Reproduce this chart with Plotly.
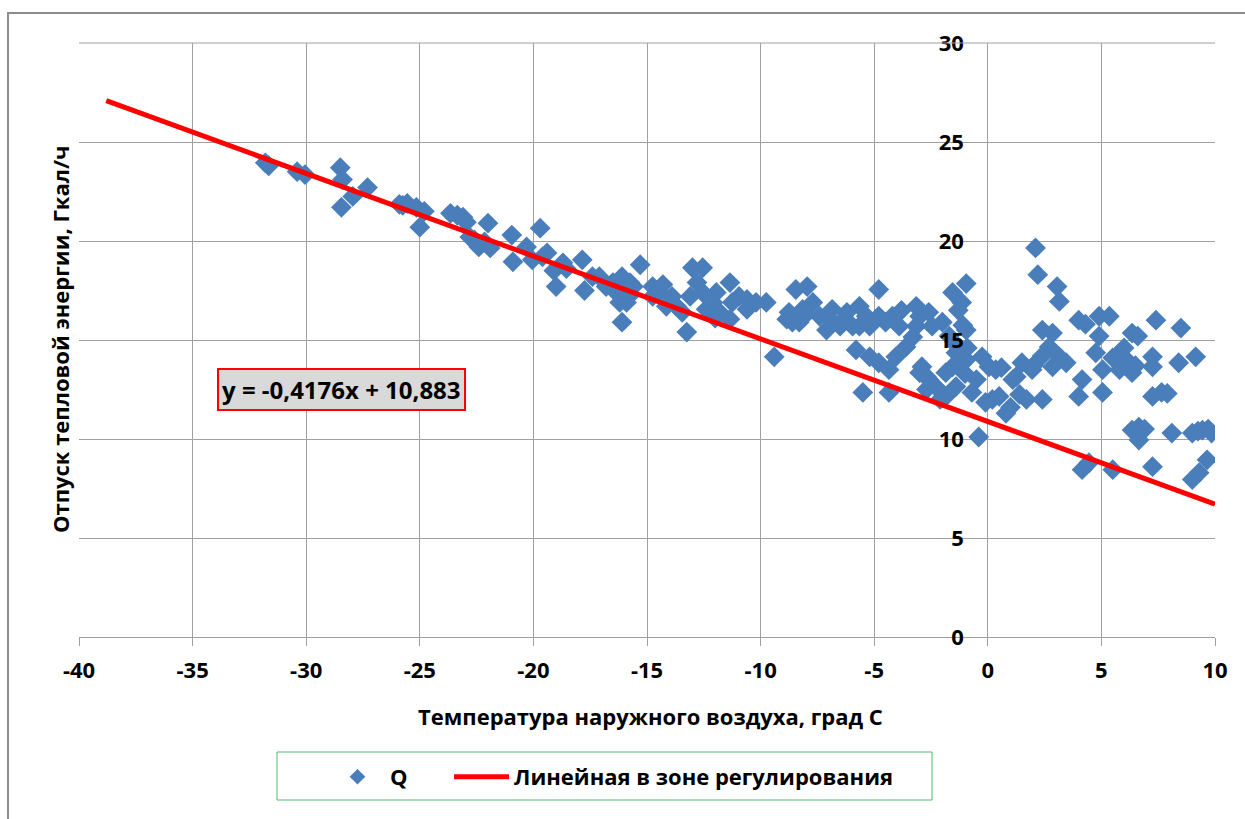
import plotly.graph_objects as go

# Outdoor air temperature, °C
temp_c = [
    -31.8, -31.65, -30.4, -30.05, -28.5, -28.4, -27.3, -27.95, -28.45,
    -25.9, -25.75, -25.55, -25.15, -24.8, -25.0,
    -23.65, -23.35, -23.1, -22.95, -22.0, -22.8, -22.4, -21.9, -22.6, -22.15,
    -20.95, -20.9, -20.3, -20.05, -19.7, -19.4, -19.1, -19.0, -18.7, -18.55, -19.6,
    -17.85, -17.75, -17.4, -16.8, -16.35, -16.1, -15.9, -15.3, -15.75, -17.1, -16.5,
    -16.1, -16.2, -15.6, -15.8,
    -14.75, -14.75, -14.3, -13.9, -13.7, -13.25, -13.0, -12.55, -12.8, -13.1, -12.55,
    -12.1, -11.35, -11.8, -11.25, -10.95, -10.6, -11.35, -10.2, -9.75, -14.15, -12.4,
    -13.45, -10.6, -14.45, -11.95, -12.0,
    -9.4, -8.45, -7.95, -8.75, -8.85, -8.15, -8.3, -7.7, -7.4, -6.85, -6.85, -6.2,
    -5.65, -5.95, -5.35, -5.2, -8.6, -7.1, -6.5, -5.65, -8.0, -7.0, -6.4, -5.8, -5.5, -5.2,
    -4.8, -4.8, -4.8, -4.35, -4.35, -4.2, -3.9, -4.05, -3.6, -3.3, -3.15, -3.15, -3.0,
    -2.6, -2.45, -2.9, -2.7, -4.5, -3.8,
    -3.0, -2.6, -2.3, -2.7, -1.85, -1.85, -1.4, -1.25, -0.95, -0.7, -1.4, -1.55, -0.5,
    -0.25, -0.4, -2.1, -1.0,
    -1.55, -0.95, -1.15, -0.95, -1.1, -1.3, -2.0, -1.7, -0.9, -1.35,
    0.35, 0.2, 0.5, 0.8, 1.1, 1.5, 1.7, 1.95, 2.4, 1.25, 1.4, 0.05, -0.1, 1.0, 0.6,
    2.1, 2.2, 3.05, 3.15, 2.4, 2.85, 2.7, 3.15, 3.45, 2.85, 2.4, 2.0,
    4.0, 4.15, 4.0, 4.9, 4.9, 4.75, 4.15, 4.45, 4.3,
    5.35, 5.05, 5.05, 5.8, 6.1, 6.35, 6.35, 5.8, 6.35, 6.65, 6.65, 5.5, 5.5, 6.0, 6.6,
    6.9, 6.5,
    7.4, 7.25, 7.25, 7.25, 7.65, 7.25, 8.1, 8.4, 8.5, 9.15, 9.0, 9.45, 9.85, 9.65, 9.0,
    9.3, 9.7, 9.25, 7.9,
]

# Heat supply, Gcal/h
heat_gcal = [
    23.95, 23.8, 23.5, 23.35, 23.7, 23.1, 22.7, 22.25, 21.7,
    21.85, 21.8, 21.9, 21.7, 21.5, 20.7,
    21.4, 21.3, 21.2, 20.95, 20.9, 20.2, 19.7, 19.65, 20.05, 19.95,
    20.3, 18.95, 19.7, 19.05, 20.65, 19.4, 18.5, 17.7, 18.9, 18.6, 19.2,
    19.05, 17.5, 18.2, 17.7, 17.4, 15.9, 16.9, 18.8, 17.9, 18.2, 17.9,
    18.2, 16.9, 17.7, 17.2,
    17.2, 17.7, 17.8, 17.2, 16.7, 15.4, 18.65, 18.65, 17.9, 17.2, 17.4,
    16.9, 17.9, 16.4, 16.9, 17.2, 17.05, 16.05, 16.9, 16.9, 16.7, 16.55,
    16.4, 16.55, 17.4, 17.4, 16.1,
    14.15, 17.55, 17.7, 16.4, 16.05, 16.55, 15.9, 16.9, 16.2, 16.55, 15.9, 16.4,
    16.7, 15.7, 16.2, 15.7, 15.9, 15.5, 15.7, 15.7, 16.3, 16.1, 16.0, 14.5, 12.35, 14.15,
    17.55, 16.2, 13.85, 13.5, 12.35, 16.2, 15.7, 14.15, 14.65, 15.15, 15.7, 16.7, 16.2,
    16.4, 15.7, 13.65, 13.15, 15.9, 16.5,
    13.35, 13.0, 12.65, 12.5, 13.35, 12.15, 12.65, 13.85, 14.0, 12.35, 14.35, 13.65, 13.0,
    14.15, 10.1, 12.0, 13.3,
    17.4, 17.85, 16.9, 15.5, 15.75, 16.5, 15.9, 15.2, 14.6, 14.7,
    13.5, 12.0, 12.15, 11.3, 13.0, 13.85, 12.0, 13.5, 12.0, 13.15, 12.25, 13.65, 11.85, 11.6, 13.6,
    19.65, 18.3, 17.7, 16.95, 15.5, 15.35, 14.65, 14.15, 13.85, 13.65, 14.2, 13.7,
    16.0, 13.0, 12.15, 16.2, 15.2, 14.35, 8.45, 8.8, 15.8,
    16.2, 13.5, 12.35, 14.35, 14.0, 15.35, 13.35, 13.5, 10.45, 10.6, 9.95, 8.45, 14.1, 14.6, 15.2,
    10.5, 13.7,
    16.0, 14.15, 13.65, 12.15, 12.35, 8.6, 10.3, 13.85, 15.6, 14.15, 10.3, 10.45, 10.3, 8.95, 7.95,
    8.3, 10.5, 10.4, 12.3,
]

# Linear trend in the control zone: y = slope * x + intercept
TREND_SLOPE = -0.4176
TREND_INTERCEPT = 10.883
trend_x = [-38.8, 10.0]
trend_y = [TREND_SLOPE * t + TREND_INTERCEPT for t in trend_x]

x_ticks = [-40, -35, -30, -25, -20, -15, -10, -5, 0, 5, 10]
y_ticks = [0, 5, 10, 15, 20, 25, 30]

FONT = "Open Sans"
GRID = "#a0a0a0"
TXT = 22

fig = go.Figure()
fig.add_trace(go.Scatter(
    x=temp_c, y=heat_gcal, mode="markers", name="Q", legend="legend",
    marker=dict(symbol="diamond", size=16, color="#4a7ebb", line=dict(width=0)),
))
fig.add_trace(go.Scatter(
    x=trend_x, y=trend_y, mode="lines", name="Линейная в зоне регулирования",
    legend="legend2",
    line=dict(color="#ff0000", width=5),
))

# plot-area geometry in pixels (figure 1245 x 819)
L, R, T, B = 79, 1215, 43, 637
W, H = R - L, B - T
def px(xp):
    return (xp - L) / W
def py(yp):
    return (B - yp) / H

y_axis_pos = (0 - (-40)) / 50.0

legend_common = dict(
    orientation="h", yanchor="middle", xanchor="left",
    font=dict(family=FONT, size=TXT, weight="bold", color="#000000"),
    bgcolor="rgba(0,0,0,0)", borderwidth=0, itemsizing="constant", itemwidth=55,
)

fig.update_layout(
    width=1245, height=819,
    margin=dict(l=L, r=1245 - R, t=T, b=819 - B, pad=0),
    paper_bgcolor="white", plot_bgcolor="white",
    font=dict(family=FONT, color="#000000"),
    showlegend=True,
    legend=dict(x=px(325), y=py(777), **legend_common),
    legend2=dict(x=px(449), y=py(777), **legend_common),
    xaxis=dict(
        range=[-40, 10], tickvals=x_ticks, ticktext=[str(v) for v in x_ticks],
        showgrid=True, gridcolor=GRID, gridwidth=1, zeroline=False,
        showline=True, linecolor=GRID, linewidth=1,
        ticks="outside", ticklen=8, tickcolor=GRID, tickwidth=1,
        tickfont=dict(family=FONT, size=TXT, weight="bold", color="#000000"),
        ticklabelstandoff=6,
    ),
    yaxis=dict(
        range=[0, 30], tickvals=y_ticks, ticktext=[str(v) for v in y_ticks],
        anchor="free", position=y_axis_pos, side="left",
        showgrid=True, gridcolor=GRID, gridwidth=1, zeroline=False,
        showline=False, ticks="",
        tickfont=dict(family=FONT, size=TXT, weight="bold", color="#000000"),
        ticklabelstandoff=24,
    ),
    shapes=[
        # outer chart frame
        dict(type="rect", xref="paper", yref="paper",
             x0=px(8), x1=px(1260), y0=py(840), y1=py(13),
             line=dict(color="#8c8c8c", width=2), fillcolor="rgba(0,0,0,0)", layer="below"),
        # top plot border
        dict(type="line", xref="paper", yref="paper", x0=0, x1=1, y0=1, y1=1,
             line=dict(color=GRID, width=1)),
        # legend frame
        dict(type="rect", xref="paper", yref="paper",
             x0=px(277), x1=px(932), y0=py(800), y1=py(752),
             line=dict(color="#55b96e", width=1), fillcolor="rgba(0,0,0,0)"),
    ],
    annotations=[
        dict(text="Температура наружного воздуха, град С", xref="paper", yref="paper",
             x=px(650), y=py(716), xanchor="center", yanchor="middle", showarrow=False,
             font=dict(family=FONT, size=TXT, weight="bold", color="#000000")),
        dict(text="Отпуск тепловой энергии, Гкал/ч", xref="paper", yref="paper",
             x=px(60), y=py(340), xanchor="center", yanchor="middle", showarrow=False,
             textangle=-90,
             font=dict(family=FONT, size=TXT, weight="bold", color="#000000")),
        dict(text="y = -0,4176x + 10,883", xref="paper", yref="paper",
             x=px(341), y=py(390), xanchor="center", yanchor="middle", showarrow=False,
             bgcolor="#d9d9d9", bordercolor="#ff0000", borderwidth=2, borderpad=3,
             font=dict(family=FONT, size=24, weight="bold", color="#000000")),
    ],
)

fig.write_html("out.html")
